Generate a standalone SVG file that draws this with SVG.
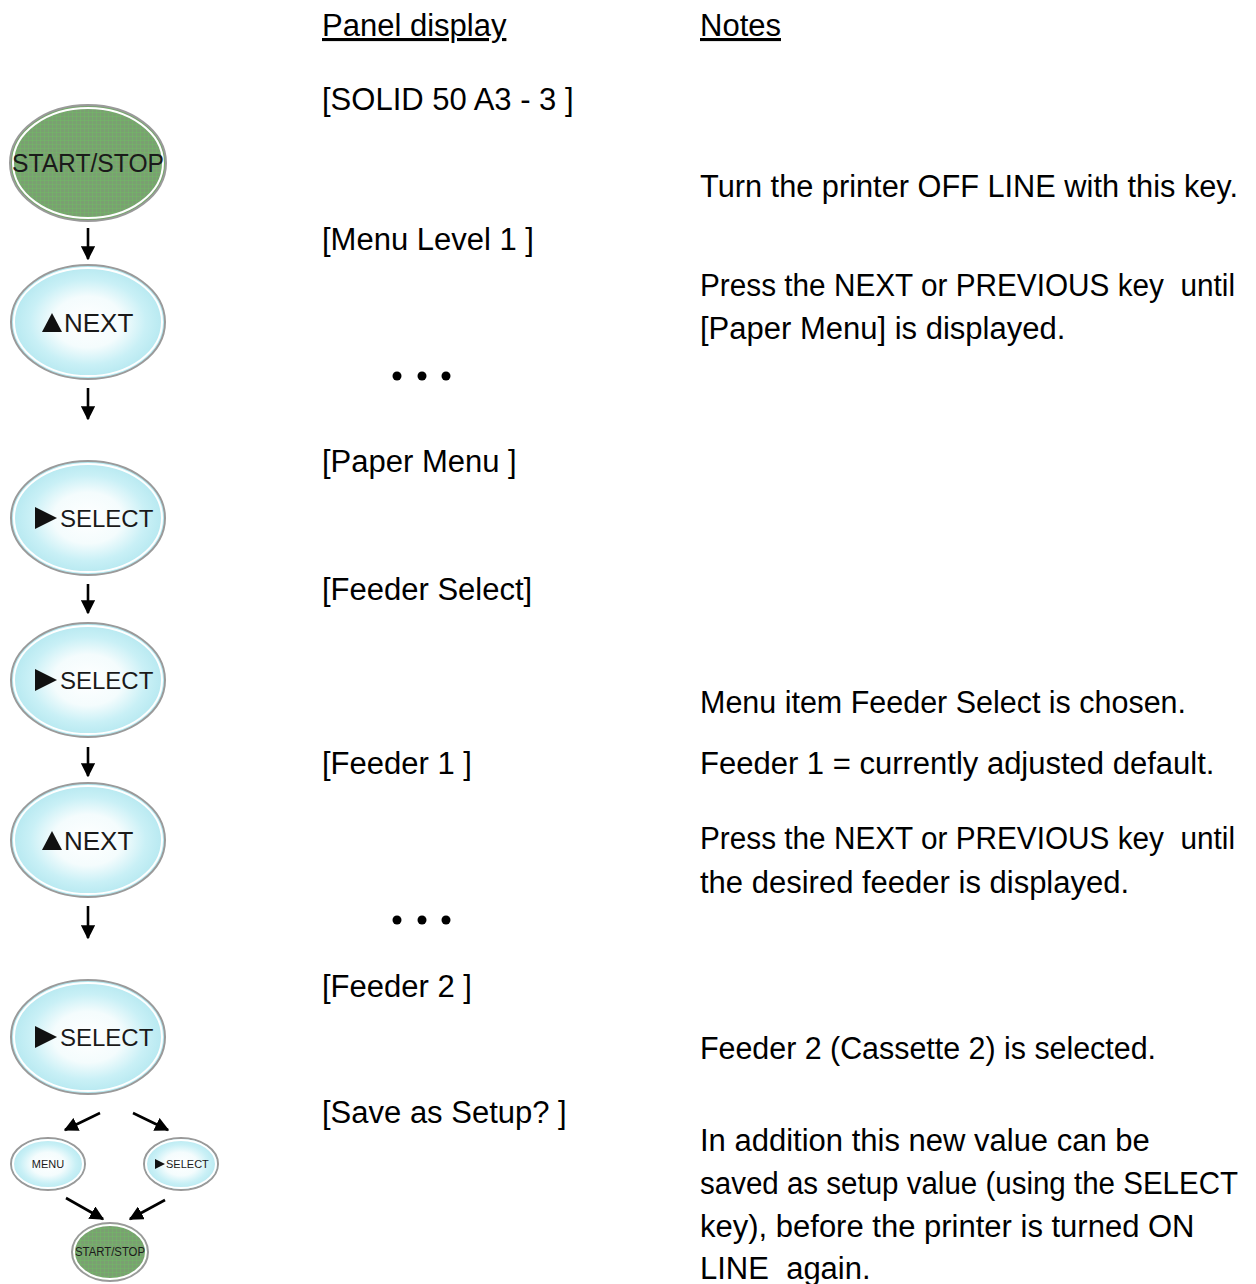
<svg xmlns="http://www.w3.org/2000/svg" width="1256" height="1284" viewBox="0 0 1256 1284">
<defs>
<radialGradient id="blue" cx="0.5" cy="0.5" r="0.5">
<stop offset="0" stop-color="#ffffff"/>
<stop offset="0.45" stop-color="#f4fcfd"/>
<stop offset="0.75" stop-color="#c9f0f6"/>
<stop offset="1" stop-color="#b5e8f0"/>
</radialGradient>
<pattern id="grid" width="4" height="4" patternUnits="userSpaceOnUse">
<rect width="4" height="4" fill="#7aa071"/>
<path d="M0 0H4M0 0V4" stroke="#6fc062" stroke-width="0.8"/>
</pattern>
<marker id="ah" viewBox="0 0 10 10" refX="9" refY="5" markerWidth="5.5" markerHeight="5.5" orient="auto" markerUnits="strokeWidth">
<path d="M0 0L10 5L0 10z" fill="#000"/>
</marker>
<style>
.t{font-family:"Liberation Sans",Arial,sans-serif;font-size:31px;fill:#000}
.k{font-family:"Liberation Sans",Arial,sans-serif;fill:#1a1a1a}
.bb{fill:url(#blue);stroke:#9a9a9a;stroke-width:2}
.gb{fill:url(#grid);stroke:#9a9a9a;stroke-width:2}
.in{fill:none;stroke:#ffffff;stroke-width:2}
.c{stroke:#000;stroke-width:2.6;fill:none;marker-end:url(#ah)}
</style>
</defs>
<rect width="1256" height="1284" fill="#fff"/>

<g id="startstop1">
<ellipse cx="88" cy="163" rx="78" ry="58" class="gb"/>
<ellipse cx="88" cy="163" rx="75" ry="55" class="in"/>
<text x="88" y="172" class="k" font-size="25" text-anchor="middle" textLength="152" lengthAdjust="spacingAndGlyphs">START/STOP</text>
</g>
<g id="next1">
<ellipse cx="88" cy="322" rx="77" ry="57" class="bb"/>
<ellipse cx="88" cy="322" rx="74" ry="54" class="in"/>
<path d="M42 332L52 313L62 332z" fill="#111"/>
<text x="64" y="332" class="k" font-size="26">NEXT</text>
</g>
<g id="select1">
<ellipse cx="88" cy="518" rx="77" ry="57" class="bb"/>
<ellipse cx="88" cy="518" rx="74" ry="54" class="in"/>
<path d="M35 507L57 518L35 529z" fill="#111"/>
<text x="60" y="527" class="k" font-size="24">SELECT</text>
</g>
<g id="select2">
<ellipse cx="88" cy="680" rx="77" ry="57" class="bb"/>
<ellipse cx="88" cy="680" rx="74" ry="54" class="in"/>
<path d="M35 669L57 680L35 691z" fill="#111"/>
<text x="60" y="689" class="k" font-size="24">SELECT</text>
</g>
<g id="next2">
<ellipse cx="88" cy="840" rx="77" ry="57" class="bb"/>
<ellipse cx="88" cy="840" rx="74" ry="54" class="in"/>
<path d="M42 850L52 831L62 850z" fill="#111"/>
<text x="64" y="850" class="k" font-size="26">NEXT</text>
</g>
<g id="select3">
<ellipse cx="88" cy="1037" rx="77" ry="57" class="bb"/>
<ellipse cx="88" cy="1037" rx="74" ry="54" class="in"/>
<path d="M35 1026L57 1037L35 1048z" fill="#111"/>
<text x="60" y="1046" class="k" font-size="24">SELECT</text>
</g>
<g id="menu">
<ellipse cx="48" cy="1164" rx="37" ry="26" class="bb"/>
<ellipse cx="48" cy="1164" rx="35" ry="24" class="in"/>
<text x="48" y="1168" class="k" font-size="11" text-anchor="middle">MENU</text>
</g>
<g id="select4">
<ellipse cx="181" cy="1164" rx="37" ry="26" class="bb"/>
<ellipse cx="181" cy="1164" rx="35" ry="24" class="in"/>
<path d="M155 1159L165 1164L155 1169z" fill="#111"/>
<text x="166" y="1168" class="k" font-size="11">SELECT</text>
</g>
<g id="startstop2">
<ellipse cx="110" cy="1252" rx="38" ry="29" class="gb"/>
<ellipse cx="110" cy="1252" rx="36" ry="27" class="in"/>
<text x="110" y="1256" class="k" font-size="12" text-anchor="middle" textLength="70" lengthAdjust="spacingAndGlyphs">START/STOP</text>
</g>

<g id="connectors">
<line x1="88" y1="228" x2="88" y2="259" class="c"/>
<line x1="88" y1="388" x2="88" y2="419" class="c"/>
<line x1="88" y1="584" x2="88" y2="613" class="c"/>
<line x1="88" y1="747" x2="88" y2="776" class="c"/>
<line x1="88" y1="906" x2="88" y2="938" class="c"/>
<line x1="100" y1="1113" x2="65" y2="1130" class="c"/>
<line x1="133" y1="1113" x2="168" y2="1130" class="c"/>
<line x1="66" y1="1198" x2="103" y2="1219" class="c"/>
<line x1="165" y1="1200" x2="130" y2="1219" class="c"/>
</g>

<g id="panel">
<text x="322" y="36" class="t" text-decoration="underline">Panel display</text>
<text x="322" y="110" class="t">[SOLID 50 A3 - 3 ]</text>
<text x="322" y="250" class="t">[Menu Level 1 ]</text>
<circle cx="397" cy="376" r="4.5"/><circle cx="422" cy="376" r="4.5"/><circle cx="446" cy="376" r="4.5"/>
<text x="322" y="472" class="t">[Paper Menu ]</text>
<text x="322" y="600" class="t">[Feeder Select]</text>
<text x="322" y="774" class="t">[Feeder 1 ]</text>
<circle cx="397" cy="920" r="4.5"/><circle cx="422" cy="920" r="4.5"/><circle cx="446" cy="920" r="4.5"/>
<text x="322" y="997" class="t">[Feeder 2 ]</text>
<text x="322" y="1123" class="t">[Save as Setup? ]</text>
</g>
<g id="notes">
<text x="700" y="36" class="t" text-decoration="underline">Notes</text>
<text x="700" y="197" class="t" textLength="538" lengthAdjust="spacingAndGlyphs">Turn the printer OFF LINE with this key.</text>
<text x="700" y="296" class="t" xml:space="preserve" textLength="535" lengthAdjust="spacingAndGlyphs">Press the NEXT or PREVIOUS key  until</text>
<text x="700" y="339" class="t">[Paper Menu] is displayed.</text>
<text x="700" y="713" class="t" textLength="486" lengthAdjust="spacingAndGlyphs">Menu item Feeder Select is chosen.</text>
<text x="700" y="774" class="t">Feeder 1 = currently adjusted default.</text>
<text x="700" y="849" class="t" xml:space="preserve" textLength="535" lengthAdjust="spacingAndGlyphs">Press the NEXT or PREVIOUS key  until</text>
<text x="700" y="893" class="t">the desired feeder is displayed.</text>
<text x="700" y="1059" class="t" textLength="456" lengthAdjust="spacingAndGlyphs">Feeder 2 (Cassette 2) is selected.</text>
<text x="700" y="1151" class="t">In addition this new value can be</text>
<text x="700" y="1194" class="t" font-size="29.5" textLength="538" lengthAdjust="spacingAndGlyphs">saved as setup value (using the SELECT</text>
<text x="700" y="1237" class="t">key), before the printer is turned ON</text>
<text x="700" y="1279" class="t" xml:space="preserve">LINE  again.</text>
</g>
</svg>
